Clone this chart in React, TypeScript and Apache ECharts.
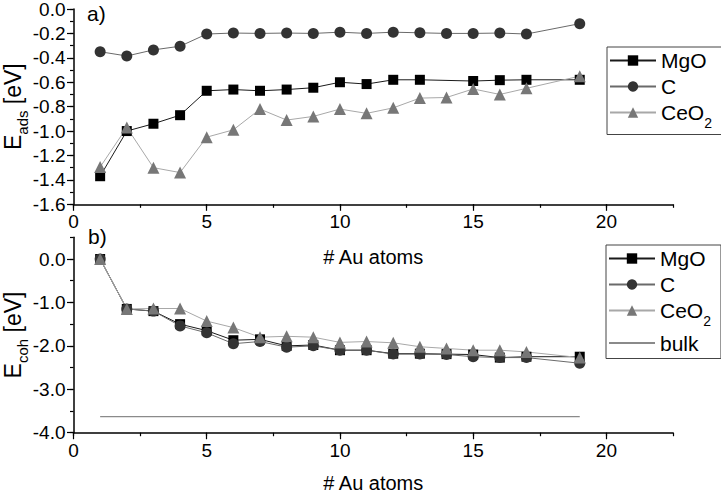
import React, { useEffect, useRef } from "react";
import * as echarts from "echarts";

// ---- data ----
const atomsAll = [1, 2, 3, 4, 5, 6, 7, 8, 9, 10, 11, 12, 13, 14, 15, 16, 17, 19];
const atomsMgOAds = [1, 2, 3, 4, 5, 6, 7, 8, 9, 10, 11, 12, 13, 15, 16, 17, 19];

const adsMgO = [-1.37, -1.0, -0.94, -0.87, -0.67, -0.66, -0.67, -0.66, -0.645, -0.6, -0.615, -0.58, -0.58, -0.59, -0.583, -0.58, -0.58];
const adsC = [-0.35, -0.385, -0.335, -0.305, -0.205, -0.197, -0.2, -0.197, -0.2, -0.19, -0.2, -0.19, -0.195, -0.2, -0.2, -0.197, -0.205, -0.12];
const adsCeO2 = [-1.295, -0.97, -1.3, -1.34, -1.05, -0.99, -0.82, -0.91, -0.88, -0.82, -0.855, -0.81, -0.73, -0.725, -0.655, -0.7, -0.65, -0.55];

const cohMgO = [0.0, -1.15, -1.2, -1.5, -1.65, -1.87, -1.85, -2.0, -1.98, -2.1, -2.1, -2.18, -2.18, -2.19, -2.2, -2.27, -2.25, -2.25];
const cohC = [0.0, -1.15, -1.2, -1.54, -1.7, -1.95, -1.9, -2.03, -2.0, -2.1, -2.1, -2.19, -2.19, -2.2, -2.25, -2.27, -2.27, -2.4];
const cohCeO2 = [0.0, -1.15, -1.14, -1.14, -1.43, -1.58, -1.8, -1.78, -1.8, -1.92, -1.9, -1.93, -2.02, -2.06, -2.1, -2.1, -2.14, -2.27];

const bulkX = [1, 19];
const bulkY = [-3.63, -3.63];

const legendTop = ["MgO", "C", "CeO2"];
const legendBottom = ["MgO", "C", "CeO2", "bulk"];

const FONT = 'Arial, "Liberation Sans", sans-serif';

const pair = (xs: number[], ys: number[]) => xs.map((x, i) => [x, ys[i]]);

const styles: Record<string, any> = {
  MgO: { symbol: "rect", symbolSize: 10, color: "#000000", line: "#1a1a1a" },
  C: { symbol: "circle", symbolSize: 11, color: "#333333", line: "#6a6a6a" },
  CeO2: { symbol: "triangle", symbolSize: 12, color: "#777777", line: "#a8a8a8" },
};

function mkSeries(name: string, data: number[][], axis: number) {
  const s = styles[name];
  return {
    name,
    type: "line",
    xAxisIndex: axis,
    yAxisIndex: axis,
    data,
    symbol: s.symbol,
    symbolSize: s.symbolSize,
    itemStyle: { color: s.color, borderWidth: 0 },
    lineStyle: { color: s.line, width: 1 },
    showSymbol: true,
    z: 3,
  };
}

const fmt1 = (v: number) => (Math.abs(v) < 1e-9 ? 0 : v).toFixed(1);

export default function App() {
  const ref = useRef<HTMLDivElement>(null);
  useEffect(() => {
    if (!ref.current) return;
    const chart = echarts.init(ref.current, undefined, { renderer: "svg" });

    const L = 73.5;
    const W = 599.5; // 0..22.5
    const WMaj = (W * 20) / 22.5; // 0..20
    const topT = 9, topH = 195.3; // 0 .. -1.6
    const botPerUnit = 43.43;
    const botZero = 259;
    const botT = botZero - 0.5 * botPerUnit, botH = 4.5 * botPerUnit; // 0.5 .. -4

    const tickStyle = { color: "#000", width: 1.2 };

    const xMain = (gridIndex: number, nameGap: number) => ({
      type: "value",
      gridIndex,
      position: "bottom",
      min: 0,
      max: 22.5,
      interval: 2.5,
      name: "# Au atoms",
      nameLocation: "middle",
      nameGap,
      nameTextStyle: { fontFamily: FONT, fontSize: 20, color: "#000", lineHeight: 20 },
      axisLine: { show: true, onZero: false, lineStyle: { color: "#000", width: 1.5 } },
      axisTick: { show: true, inside: false, length: 3.5, lineStyle: tickStyle },
      splitLine: { show: false },
      axisLabel: { show: false },
    });
    const xMajor = (gridIndex: number) => ({
      type: "value",
      gridIndex,
      position: "bottom",
      min: 0,
      max: 20,
      interval: 5,
      axisLine: { show: false, onZero: false },
      axisTick: { show: true, inside: false, length: 6.5, lineStyle: tickStyle },
      splitLine: { show: false },
      axisLabel: { show: true, fontFamily: FONT, fontSize: 19, color: "#000", margin: 8 },
    });

    const yMain = (gridIndex: number, min: number, max: number, interval: number, sub: string) => ({
      type: "value",
      gridIndex,
      position: "left",
      min,
      max,
      interval,
      name: `{n|E}{s|${sub}}{n| [eV]}`,
      nameLocation: "middle",
      nameGap: 49,
      nameTextStyle: {
        fontFamily: FONT,
        color: "#000",
        rich: {
          n: { fontFamily: FONT, fontSize: 23, color: "#000", lineHeight: 28, verticalAlign: "bottom" },
          s: { fontFamily: FONT, fontSize: 15, color: "#000", lineHeight: 28, verticalAlign: "bottom", padding: [0, 0, -5, 0] },
        },
      },
      axisLine: { show: true, onZero: false, lineStyle: { color: "#000", width: 1.5 } },
      axisTick: { show: true, inside: false, length: 3.5, lineStyle: tickStyle },
      splitLine: { show: false },
      axisLabel: { show: false },
    });
    const yMajor = (gridIndex: number, min: number, max: number, interval: number) => ({
      type: "value",
      gridIndex,
      position: "left",
      min,
      max,
      interval,
      axisLine: { show: false, onZero: false },
      axisTick: { show: true, inside: false, length: 6.5, lineStyle: tickStyle },
      splitLine: { show: false },
      axisLabel: { show: true, fontFamily: FONT, fontSize: 19, lineHeight: 16, color: "#000", margin: 8, formatter: fmt1 },
    });

    const legendRich = {
      n: { fontFamily: FONT, fontSize: 21, color: "#000", lineHeight: 22 },
      s: { fontFamily: FONT, fontSize: 14, color: "#000", lineHeight: 22, verticalAlign: "bottom", padding: [0, 0, -6, 0] },
    };
    const legendFormatter = (name: string) =>
      name === "CeO2" ? "{n|CeO}{s|2}" : `{n|${name}}`;

    const legendBase = (left: number, top: number, data: any[]) => ({
      show: true,
      orient: "vertical",
      left,
      top,
      data,
      itemWidth: 46,
      itemHeight: 13,
      itemGap: 5,
      padding: [3, 10, 5, 2],
      borderColor: "#444",
      borderWidth: 1,
      backgroundColor: "#fff",
      selectedMode: false,
      formatter: legendFormatter,
      textStyle: { fontFamily: FONT, fontSize: 21, color: "#000", rich: legendRich },
    });

    const gridBase = { outerBoundsMode: "none", containLabel: false };

    chart.setOption({
      animation: false,
      backgroundColor: "#ffffff",
      textStyle: { fontFamily: FONT },
      grid: [
        { ...gridBase, left: L, top: topT, width: W, height: topH },
        { ...gridBase, left: L, top: botT, width: W, height: botH },
        { ...gridBase, left: L, top: topT, width: WMaj, height: topH },
        { ...gridBase, left: L, top: botZero, width: WMaj, height: 4 * botPerUnit },
      ],
      xAxis: [xMain(0, 43), xMain(1, 40), xMajor(2), xMajor(3)],
      yAxis: [
        yMain(0, -1.6, 0, 0.1, "ads"),
        yMain(1, -4, 0.5, 0.5, "coh"),
        yMajor(2, -1.6, 0, 0.2),
        yMajor(3, -4, 0, 1),
      ],
      legend: [
        legendBase(607, 47, legendTop),
        legendBase(606, 245, ["MgO", "C", "CeO2", { name: "bulk", itemStyle: { opacity: 0 } }]),
      ],
      graphic: [
        { type: "text", left: 87, top: 3, style: { text: "a)", fontFamily: FONT, fontSize: 21, fill: "#000" } },
        { type: "text", left: 88, top: 226, style: { text: "b)", fontFamily: FONT, fontSize: 21, fill: "#000" } },
      ],
      series: [
        mkSeries("MgO", pair(atomsMgOAds, adsMgO), 0),
        mkSeries("C", pair(atomsAll, adsC), 0),
        mkSeries("CeO2", pair(atomsAll, adsCeO2), 0),
        mkSeries("MgO", pair(atomsAll, cohMgO), 1),
        mkSeries("C", pair(atomsAll, cohC), 1),
        mkSeries("CeO2", pair(atomsAll, cohCeO2), 1),
        {
          name: "bulk",
          type: "line",
          xAxisIndex: 1,
          yAxisIndex: 1,
          data: pair(bulkX, bulkY),
          symbol: "none",
          itemStyle: { color: "#8a8a8a" },
          lineStyle: { color: "#8a8a8a", width: 1.3 },
          z: 2,
        },
      ],
    });
    return () => chart.dispose();
  }, []);
  return <div ref={ref} style={{ width: 721, height: 495, position: "absolute", left: 0, top: 0 }} />;
}
